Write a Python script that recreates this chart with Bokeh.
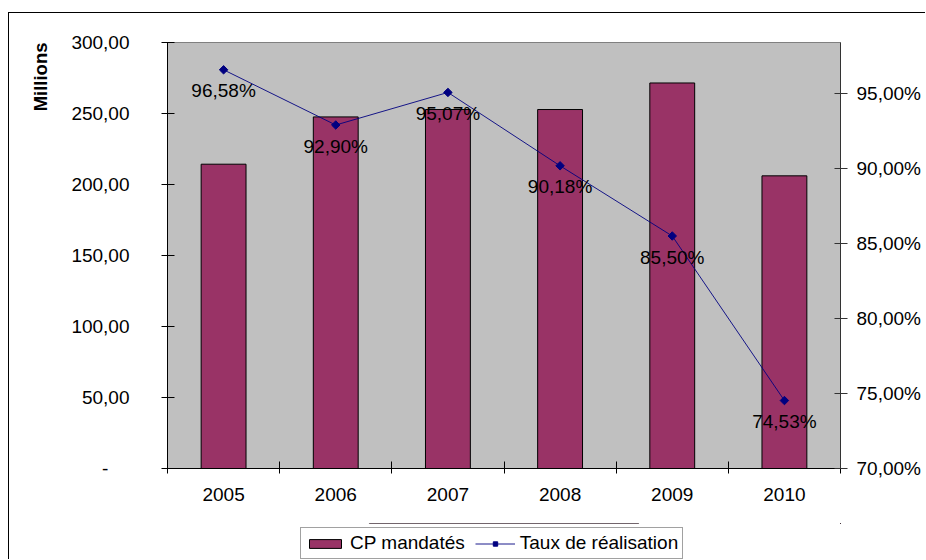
from bokeh.plotting import figure
from bokeh.layouts import column
from bokeh.models import (ColumnDataSource, Range1d, LinearAxis, FixedTicker,
                          Legend, LegendItem, Title)
from bokeh.core.properties import value
from bokeh.embed import file_html
from bokeh.resources import INLINE

# --- data -------------------------------------------------------------
years = ["2005", "2006", "2007", "2008", "2009", "2010"]
cp_mandates = [214.3, 247.6, 252.8, 252.8, 271.5, 206.1]      # millions
taux_realisation = [96.58, 92.90, 95.07, 90.18, 85.50, 74.53]  # percent

left_ticks = [0, 50, 100, 150, 200, 250, 300]
right_ticks = [70, 75, 80, 85, 90, 95]


def fr_number(v):
    return f"{v:,.2f}".replace(",", " ").replace(".", ",")


left_labels = {t: (fr_number(t) if t else "-\u00a0\u00a0\u00a0\u00a0") for t in left_ticks}
right_labels = {t: fr_number(t) + "%" for t in right_ticks}
taux_text = [fr_number(v) + "%" for v in taux_realisation]

FONT = "Liberation Sans"
BAR = "#993366"
NAVY = "#000080"

x_pos = [i + 0.5 for i in range(len(years))]
src = ColumnDataSource(dict(x=x_pos, year=years, cp=cp_mandates,
                            taux=taux_realisation, label=taux_text))

p = figure(width=917, height=510, frame_width=673, frame_height=426,
           x_range=Range1d(0, len(years)), y_range=Range1d(0, 300),
           min_border_left=158, min_border_right=86,
           min_border_top=29, min_border_bottom=55,
           output_backend="svg", toolbar_location=None)

p.background_fill_color = "#C0C0C0"
p.border_fill_color = "white"
p.outline_line_color = "#808080"
p.grid.visible = False

# x axis: year labels at the centres, cross ticks between categories
xa = p.xaxis[0]
xa.ticker = FixedTicker(ticks=x_pos, minor_ticks=list(range(len(years) + 1)))
xa.major_label_overrides = {x: y for x, y in zip(x_pos, years)}
xa.major_tick_in = 0
xa.major_tick_out = 0
xa.minor_tick_in = 7
xa.minor_tick_out = 5
xa.minor_tick_line_color = "black"
xa.axis_line_color = "black"
xa.major_label_standoff = 14
xa.major_label_text_font = FONT
xa.major_label_text_font_size = "19px"
xa.major_label_text_color = "black"

# left axis: millions
ya = p.yaxis[0]
ya.ticker = FixedTicker(ticks=left_ticks)
ya.major_label_overrides = left_labels
ya.major_tick_in = 7
ya.major_tick_out = 6
ya.major_tick_line_color = "black"
ya.axis_line_color = "black"
ya.major_label_standoff = 32
ya.major_label_text_font = FONT
ya.major_label_text_font_size = "19px"
ya.major_label_text_color = "black"

# unit caption, set at the top end of the left side
p.add_layout(Title(text="Millions", align="right", vertical_align="bottom",
                   standoff=35, offset=0,
                   text_font=FONT, text_font_style="bold",
                   text_font_size="18.5px", text_color="black"), "left")

# right axis: completion rate
p.extra_y_ranges = {"pct": Range1d(70, 98.4)}
ra = LinearAxis(y_range_name="pct", ticker=FixedTicker(ticks=right_ticks))
ra.major_label_overrides = right_labels
ra.major_tick_in = 6
ra.major_tick_out = 7
ra.major_tick_line_color = "#333333"
ra.axis_line_color = "#333333"
ra.major_label_standoff = 9
ra.major_label_text_font = FONT
ra.major_label_text_font_size = "19px"
ra.major_label_text_color = "black"
p.add_layout(ra, "right")

p.vbar(x="x", top="cp", width=0.4, source=src,
       fill_color=BAR, line_color="black", line_width=1)
p.line(x="x", y="taux", source=src, y_range_name="pct",
       line_color=NAVY, line_width=0.9)
p.scatter(x="x", y="taux", source=src, y_range_name="pct",
          marker="square", angle=0.7854, size=6,
          fill_color=NAVY, line_color=NAVY)
p.text(x="x", y="taux", text="label", source=src, y_range_name="pct",
       y_offset=21, text_align="center", text_baseline="middle",
       text_font=value(FONT), text_font_size="19px", text_color="black")

# --- legend strip under the chart ------------------------------------
# the series are drawn again here only to give the legend its keys; the
# strip's y range lies below all values, so nothing of them shows
leg = figure(width=917, height=37, x_range=Range1d(0, 1), y_range=Range1d(-2, -1),
             x_axis_location=None, y_axis_location=None, min_border=0,
             output_backend="svg", toolbar_location=None)
leg.grid.visible = False
leg.outline_line_color = None
leg.background_fill_color = "white"
leg.border_fill_color = "white"

bar_key = leg.vbar(x="x", top="cp", width=0.4, source=src,
                   fill_color=BAR, line_color="black", line_width=1)
line_key = leg.line(x="x", y="taux", source=src, line_color=NAVY, line_width=0.9)
mark_key = leg.scatter(x="x", y="taux", source=src, marker="square", angle=0.7854,
                       size=6, fill_color=NAVY, line_color=NAVY)

legend = Legend(items=[LegendItem(label="CP mandatés", renderers=[bar_key]),
                       LegendItem(label="Taux de réalisation", renderers=[line_key, mark_key])],
                location=(133, 1), orientation="horizontal",
                glyph_width=40, glyph_height=11, label_standoff=5, spacing=10,
                padding=4, margin=0,
                label_text_font=FONT, label_text_font_size="19px",
                label_text_color="black",
                border_line_color="#444444", background_fill_color="white",
                background_fill_alpha=1)
leg.add_layout(legend)

chart = column(p, leg, spacing=0)
# chart-area frame: thin black rule along the top and left edges
chart.margin = (13, 0, 0, 9)
chart.styles = {"box-shadow": "-1px -1px 0 0 #000000"}

open("out.html", "w").write(file_html(chart, INLINE, title="CP mandatés"))
